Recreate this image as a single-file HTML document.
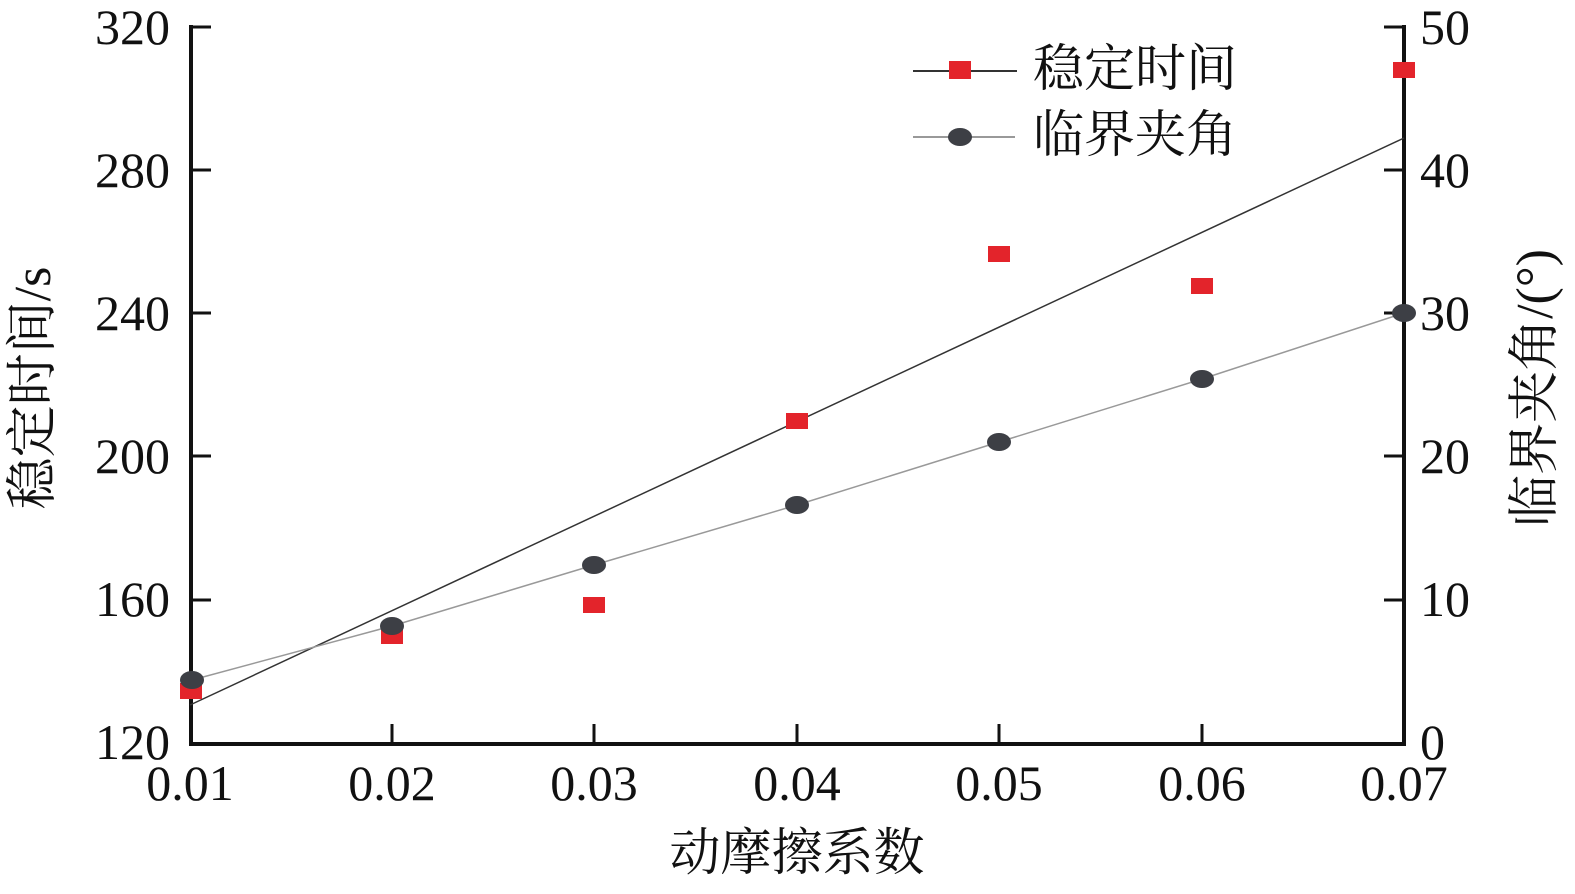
<!DOCTYPE html>
<html><head><meta charset="utf-8"><style>
html,body{margin:0;padding:0;background:#fff;}
svg text{font-family:"Liberation Serif","Noto Serif CJK SC",serif;fill:#111;}
</style></head><body>
<svg width="1575" height="889" viewBox="0 0 1575 889" xmlns="http://www.w3.org/2000/svg">
<g stroke="#111" stroke-width="4" fill="none">
<line x1="191" y1="25" x2="191" y2="746"/>
<line x1="1404" y1="25" x2="1404" y2="746"/>
<line x1="189" y1="744" x2="1406" y2="744"/>
</g>
<g stroke="#111" stroke-width="3">
<line x1="191" y1="27" x2="211" y2="27"/><line x1="191" y1="170" x2="211" y2="170"/><line x1="191" y1="313" x2="211" y2="313"/><line x1="191" y1="456" x2="211" y2="456"/><line x1="191" y1="600" x2="211" y2="600"/>
<line x1="1384" y1="27" x2="1404" y2="27"/><line x1="1384" y1="170" x2="1404" y2="170"/><line x1="1384" y1="313" x2="1404" y2="313"/><line x1="1384" y1="456" x2="1404" y2="456"/><line x1="1384" y1="600" x2="1404" y2="600"/>
<line x1="392" y1="744" x2="392" y2="724"/><line x1="594" y1="744" x2="594" y2="724"/><line x1="797" y1="744" x2="797" y2="724"/><line x1="999" y1="744" x2="999" y2="724"/><line x1="1202" y1="744" x2="1202" y2="724"/>
</g>
<g font-size="50" text-anchor="end">
<text x="170" y="44">320</text><text x="170" y="187">280</text><text x="170" y="330">240</text><text x="170" y="473">200</text><text x="170" y="616">160</text><text x="170" y="759">120</text>
</g>
<g font-size="50" text-anchor="start">
<text x="1420" y="44">50</text><text x="1420" y="187">40</text><text x="1420" y="330">30</text><text x="1420" y="473">20</text><text x="1420" y="616">10</text><text x="1420" y="759">0</text>
</g>
<g font-size="50" text-anchor="middle">
<text x="190" y="800">0.01</text><text x="392" y="800">0.02</text><text x="594" y="800">0.03</text><text x="797" y="800">0.04</text><text x="999" y="800">0.05</text><text x="1202" y="800">0.06</text><text x="1404" y="800">0.07</text>
</g>
<text x="797" y="870" font-size="51" text-anchor="middle">动摩擦系数</text>
<text transform="translate(50,388) rotate(-90)" font-size="52" text-anchor="middle">稳定时间/s</text>
<text transform="translate(1552,388) rotate(-90)" font-size="52" text-anchor="middle">临界夹角/(°)</text>
<line x1="190" y1="705" x2="1404" y2="138" stroke="#333" stroke-width="1.5"/>
<polyline points="192,680 392,626 594,565 797,505 999,442 1202,379 1404,313" fill="none" stroke="#999" stroke-width="1.5"/>
<g fill="#e3242b">
<rect x="180" y="683" width="22" height="16"/><rect x="381" y="628" width="22" height="16"/><rect x="583" y="597" width="22" height="16"/><rect x="786" y="413" width="22" height="16"/><rect x="988" y="246" width="22" height="16"/><rect x="1191" y="278" width="22" height="16"/><rect x="1393" y="62" width="22" height="16"/>
</g>
<g fill="#3d3f45">
<ellipse cx="192" cy="680" rx="12" ry="9"/><ellipse cx="392" cy="626" rx="12" ry="9"/><ellipse cx="594" cy="565" rx="12" ry="9"/><ellipse cx="797" cy="505" rx="12" ry="9"/><ellipse cx="999" cy="442" rx="12" ry="9"/><ellipse cx="1202" cy="379" rx="12" ry="9"/><ellipse cx="1404" cy="313" rx="12" ry="9"/>
</g>
<line x1="913" y1="71" x2="1017" y2="71" stroke="#333" stroke-width="2"/>
<rect x="949" y="61" width="22" height="18" fill="#e3242b"/>
<line x1="913" y1="137" x2="1015" y2="137" stroke="#999" stroke-width="2"/>
<ellipse cx="960" cy="137" rx="12" ry="9" fill="#3d3f45"/>
<text x="1033" y="86" font-size="51">稳定时间</text>
<text x="1033" y="152" font-size="51">临界夹角</text>
</svg>
</body></html>
